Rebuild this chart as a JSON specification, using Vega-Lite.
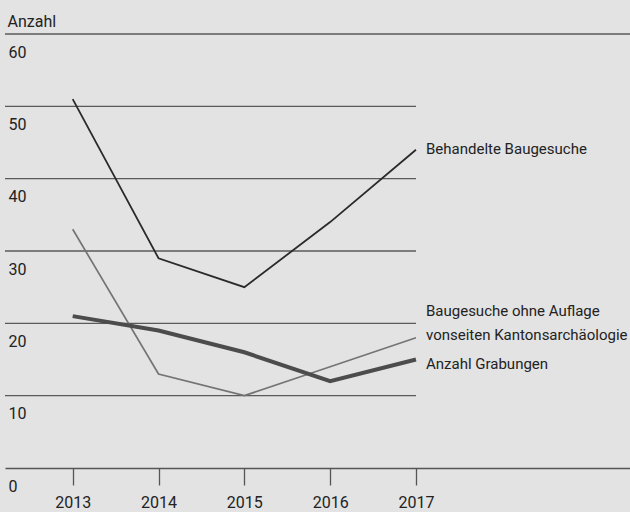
{
  "$schema": "https://vega.github.io/schema/vega-lite/v6.json",
  "autosize": {"type": "none"},
  "width": 625,
  "height": 434,
  "padding": {"left": 5, "top": 34, "right": 0, "bottom": 44},
  "background": "#e3e3e3",
  "config": {
    "view": {"stroke": null},
    "font": "Roboto",
    "text": {"font": "Roboto"}
  },
  "datasets": {
    "series": [
      {"jahr": 2013, "wert": 51, "reihe": "Behandelte Baugesuche"},
      {"jahr": 2014, "wert": 29, "reihe": "Behandelte Baugesuche"},
      {"jahr": 2015, "wert": 25, "reihe": "Behandelte Baugesuche"},
      {"jahr": 2016, "wert": 34, "reihe": "Behandelte Baugesuche"},
      {"jahr": 2017, "wert": 44, "reihe": "Behandelte Baugesuche"},
      {"jahr": 2013, "wert": 33, "reihe": "Baugesuche ohne Auflage\nvonseiten Kantonsarchäologie"},
      {"jahr": 2014, "wert": 13, "reihe": "Baugesuche ohne Auflage\nvonseiten Kantonsarchäologie"},
      {"jahr": 2015, "wert": 10, "reihe": "Baugesuche ohne Auflage\nvonseiten Kantonsarchäologie"},
      {"jahr": 2016, "wert": 14, "reihe": "Baugesuche ohne Auflage\nvonseiten Kantonsarchäologie"},
      {"jahr": 2017, "wert": 18, "reihe": "Baugesuche ohne Auflage\nvonseiten Kantonsarchäologie"},
      {"jahr": 2013, "wert": 21, "reihe": "Anzahl Grabungen"},
      {"jahr": 2014, "wert": 19, "reihe": "Anzahl Grabungen"},
      {"jahr": 2015, "wert": 16, "reihe": "Anzahl Grabungen"},
      {"jahr": 2016, "wert": 12, "reihe": "Anzahl Grabungen"},
      {"jahr": 2017, "wert": 15, "reihe": "Anzahl Grabungen"}
    ],
    "fullgrid": [{"g": 60}],
    "partgrid": [{"g": 10}, {"g": 20}, {"g": 30}, {"g": 40}, {"g": 50}]
  },
  "layer": [
    {
      "data": {"name": "fullgrid"},
      "mark": {"type": "rule", "color": "#5a5a5a", "strokeWidth": 1.3},
      "encoding": {
        "y": {
          "field": "g", "type": "quantitative",
          "scale": {"domain": [0, 60], "nice": false},
          "axis": {
            "values": [0, 10, 20, 30, 40, 50, 60],
            "title": "Anzahl", "titleAngle": 0, "titleAlign": "left", "titleBaseline": "alphabetic",
            "titleX": 2, "titleY": -8, "titleFontSize": 16, "titleFontWeight": "normal",
            "titleColor": "#222222", "titleFont": "Roboto",
            "domain": false, "ticks": false, "grid": false,
            "labelAlign": "left", "labelPadding": -3, "labelBaseline": "top",
            "labelOffset": 10, "labelFontSize": 16, "labelColor": "#222222",
            "labelFont": "Roboto"
          }
        }
      }
    },
    {
      "data": {"name": "partgrid"},
      "mark": {"type": "rule", "color": "#5a5a5a", "strokeWidth": 1.3},
      "encoding": {
        "y": {"field": "g", "type": "quantitative"},
        "x": {"datum": 2012.211, "type": "quantitative"},
        "x2": {"datum": 2017}
      }
    },
    {
      "data": {"name": "series"},
      "transform": [{"filter": "indexof(datum.reihe, 'ohne Auflage') >= 0"}],
      "mark": {"type": "line", "strokeJoin": "miter", "color": "#747474", "strokeWidth": 1.7},
      "encoding": {
        "x": {
          "field": "jahr", "type": "quantitative",
          "scale": {"domain": [2012.211, 2019.494], "nice": false, "zero": false},
          "axis": {
            "values": [2013, 2014, 2015, 2016, 2017], "format": "d",
            "title": null, "grid": false,
            "domainColor": "#555555", "domainWidth": 1.3,
            "tickColor": "#555555", "tickWidth": 1.3, "tickSize": 17,
            "labelPadding": 9, "labelFontSize": 16, "labelColor": "#222222",
            "labelFont": "Roboto"
          }
        },
        "y": {"field": "wert", "type": "quantitative"},
        "order": {"field": "jahr"}
      }
    },
    {
      "data": {"name": "series"},
      "transform": [{"filter": "datum.reihe == 'Anzahl Grabungen'"}],
      "mark": {"type": "line", "strokeJoin": "miter", "color": "#4c4c4c", "strokeWidth": 4},
      "encoding": {
        "x": {"field": "jahr", "type": "quantitative"},
        "y": {"field": "wert", "type": "quantitative"},
        "order": {"field": "jahr"}
      }
    },
    {
      "data": {"name": "series"},
      "transform": [{"filter": "datum.reihe == 'Behandelte Baugesuche'"}],
      "mark": {"type": "line", "strokeJoin": "miter", "color": "#2a2a2a", "strokeWidth": 1.8},
      "encoding": {
        "x": {"field": "jahr", "type": "quantitative"},
        "y": {"field": "wert", "type": "quantitative"},
        "order": {"field": "jahr"}
      }
    },
    {
      "data": {"name": "series"},
      "transform": [{"filter": "datum.jahr == 2017 && datum.reihe == 'Behandelte Baugesuche'"}],
      "mark": {"type": "text", "align": "left", "baseline": "middle", "dx": 10, "dy": -1, "fontSize": 15, "color": "#222222", "font": "Roboto"},
      "encoding": {
        "x": {"field": "jahr", "type": "quantitative"},
        "y": {"field": "wert", "type": "quantitative"},
        "text": {"field": "reihe"}
      }
    },
    {
      "data": {"name": "series"},
      "transform": [{"filter": "datum.jahr == 2017 && datum.reihe == 'Anzahl Grabungen'"}],
      "mark": {"type": "text", "align": "left", "baseline": "middle", "dx": 10, "dy": 4, "fontSize": 15, "color": "#222222", "font": "Roboto"},
      "encoding": {
        "x": {"field": "jahr", "type": "quantitative"},
        "y": {"field": "wert", "type": "quantitative"},
        "text": {"field": "reihe"}
      }
    },
    {
      "data": {"name": "series"},
      "transform": [{"filter": "datum.jahr == 2017 && indexof(datum.reihe, 'ohne Auflage') >= 0"}],
      "mark": {"type": "text", "align": "left", "baseline": "middle", "dx": 10, "dy": -27, "lineBreak": "\n", "lineHeight": 24, "fontSize": 15, "color": "#222222", "font": "Roboto"},
      "encoding": {
        "x": {"field": "jahr", "type": "quantitative"},
        "y": {"field": "wert", "type": "quantitative"},
        "text": {"field": "reihe"}
      }
    }
  ]
}
